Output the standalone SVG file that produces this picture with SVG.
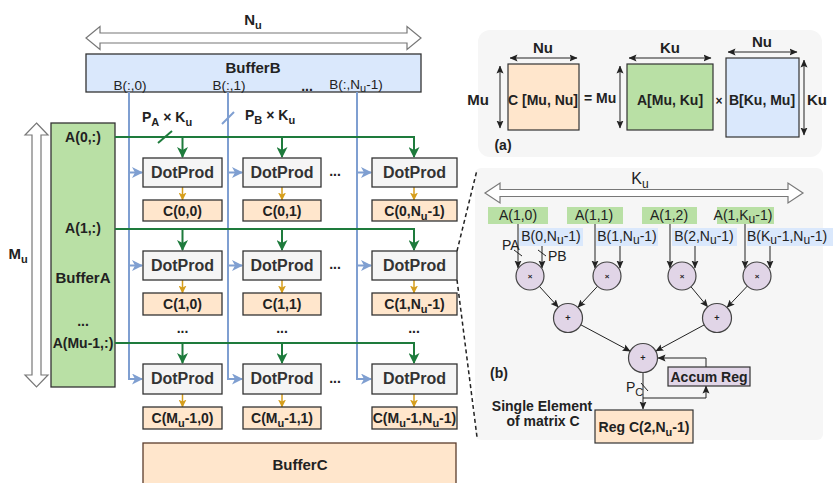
<svg xmlns="http://www.w3.org/2000/svg" width="833" height="483" viewBox="0 0 833 483">
<style>
text { font-family: "Liberation Sans", Arial, sans-serif; fill: #222; }
.b { font-weight: bold; }
.m { text-anchor: middle; }
.dp { fill: #f5f5f5; stroke: #333; stroke-width: 1.3; }
.cb { fill: #ffe6cc; stroke: #333; stroke-width: 1.3; }
.dpt { font-size: 16px; font-weight: bold; text-anchor: middle; fill: #333; }
.ct { font-size: 14px; font-weight: bold; text-anchor: middle; }
.g { stroke: #1e7b3c; stroke-width: 2; fill: none; }
.bl { stroke: #7f9fd1; stroke-width: 2; fill: none; }
.y { stroke: #d69e1c; stroke-width: 1.5; fill: none; }
.k { stroke: #222; stroke-width: 1; fill: none; }
.hollow { fill: #fff; stroke: #777; stroke-width: 1.2; }
.circ { fill: #e1d5e7; stroke: #444; stroke-width: 1.2; }
.panel { fill: #f6f6f6; stroke: none; }
.dots { font-size: 14px; font-weight: bold; text-anchor: middle; }
</style>
<defs>
<marker id="mg" markerUnits="userSpaceOnUse" markerWidth="11" markerHeight="11" refX="10" refY="5.5" orient="auto"><path d="M0,0 L11,5.5 L0,11 L3,5.5 z" fill="#1e7b3c"/></marker>
<marker id="mb" markerUnits="userSpaceOnUse" markerWidth="11" markerHeight="11" refX="10" refY="5.5" orient="auto"><path d="M0,0 L11,5.5 L0,11 L3,5.5 z" fill="#7f9fd1"/></marker>
<marker id="my" markerUnits="userSpaceOnUse" markerWidth="8" markerHeight="8" refX="7.5" refY="4" orient="auto"><path d="M0,0 L8,4 L0,8 L2,4 z" fill="#d69e1c"/></marker>
<marker id="mk" markerUnits="userSpaceOnUse" markerWidth="8" markerHeight="8" refX="7.5" refY="4" orient="auto"><path d="M0,0.5 L8,4 L0,7.5 L1.5,4 z" fill="#222"/></marker>
<marker id="mk2" markerUnits="userSpaceOnUse" markerWidth="8" markerHeight="8" refX="7.5" refY="4" orient="auto-start-reverse"><path d="M0,0.5 L8,4 L0,7.5 L1.5,4 z" fill="#222"/></marker>
</defs>

<!-- Panels backgrounds -->
<rect class="panel" x="478" y="30" width="344" height="127" rx="12"/>
<rect class="panel" x="475" y="168" width="348" height="272" rx="6"/>

<!-- Dimension arrows left -->
<g id="dim-Nu">
<polygon class="hollow" points="86,38 100,26.5 100,33 407,33 407,26.5 421,38 407,49.5 407,43 100,43 100,49.5"/>
<text class="b m" x="253" y="25" font-size="15">N<tspan dy="4" font-size="11">u</tspan></text>
</g>
<g id="dim-Mu">
<polygon class="hollow" points="36.5,123 48,135 41,135 41,375 48,375 36.5,387 25,375 32,375 32,135 25,135"/>
<text class="b m" x="18" y="259" font-size="15">M<tspan dy="4" font-size="11">u</tspan></text>
</g>

<!-- Buffers -->
<g id="bufferB">
<rect x="86" y="54" width="335" height="38" fill="#dae8fc" stroke="#333" stroke-width="1.3"/>
<text class="b m" x="253" y="73" font-size="15">BufferB</text>
<text class="m" x="130" y="89.5" font-size="13.5">B(:,0)</text>
<text class="m" x="229" y="89.5" font-size="13.5">B(:,1)</text>
<text class="dots" x="307" y="91">...</text>
<text class="m" x="356" y="89" font-size="13.5">B(:,N<tspan dy="3" font-size="11">u</tspan><tspan dy="-3">-1)</tspan></text>
</g>
<g id="bufferA">
<rect x="51" y="123" width="64" height="264" fill="#b9e0a5" stroke="#333" stroke-width="1.3"/>
<text class="b m" x="83" y="142" font-size="14">A(0,:)</text>
<text class="b m" x="83" y="233" font-size="14">A(1,:)</text>
<text class="b m" x="83" y="283" font-size="15">BufferA</text>
<text class="dots" x="83" y="326">...</text>
<text class="b m" x="83" y="348" font-size="14">A(Mu-1,:)</text>
</g>
<g id="bufferC">
<rect x="143" y="443" width="313" height="50" fill="#ffe6cc" stroke="#5a3c2c" stroke-width="1.3"/>
<text class="b m" x="300" y="470" font-size="15">BufferC</text>
</g>

<!-- Connectors left -->
<g id="connectors">
<path class="bl" d="M129,92 V379 H142" marker-end="url(#mb)"/>
<path class="bl" d="M129,172.5 H142" marker-end="url(#mb)"/>
<path class="bl" d="M129,265.5 H142" marker-end="url(#mb)"/>
<path class="bl" d="M228,92 V379 H242" marker-end="url(#mb)"/>
<path class="bl" d="M228,172.5 H242" marker-end="url(#mb)"/>
<path class="bl" d="M228,265.5 H242" marker-end="url(#mb)"/>
<path class="bl" d="M357,92 V379 H371" marker-end="url(#mb)"/>
<path class="bl" d="M357,172.5 H371" marker-end="url(#mb)"/>
<path class="bl" d="M357,265.5 H371" marker-end="url(#mb)"/>
<path class="bl" d="M222,124 L234,112" stroke-width="1.5"/>

<path class="g" d="M115,137 H414 V157" marker-end="url(#mg)"/>
<path class="g" d="M182.5,137 V157" marker-end="url(#mg)"/>
<path class="g" d="M282,137 V157" marker-end="url(#mg)"/>
<path class="g" d="M115,229 H414 V250" marker-end="url(#mg)"/>
<path class="g" d="M182.5,229 V250" marker-end="url(#mg)"/>
<path class="g" d="M282,229 V250" marker-end="url(#mg)"/>
<path class="g" d="M115,343 H414 V363" marker-end="url(#mg)"/>
<path class="g" d="M182.5,343 V363" marker-end="url(#mg)"/>
<path class="g" d="M282,343 V363" marker-end="url(#mg)"/>
<path class="g" d="M158,143 L172,131" stroke-width="1.5"/>

<path class="y" d="M182.5,187 V200" marker-end="url(#my)"/>
<path class="y" d="M282,187 V200" marker-end="url(#my)"/>
<path class="y" d="M414,187 V200" marker-end="url(#my)"/>
<path class="y" d="M182.5,280 V293" marker-end="url(#my)"/>
<path class="y" d="M282,280 V293" marker-end="url(#my)"/>
<path class="y" d="M414,280 V293" marker-end="url(#my)"/>
<path class="y" d="M182.5,394 V407" marker-end="url(#my)"/>
<path class="y" d="M282,394 V407" marker-end="url(#my)"/>
<path class="y" d="M414,394 V407" marker-end="url(#my)"/>

<path d="M457,251 L477,170" stroke="#222" stroke-width="1.5" stroke-dasharray="4,3" fill="none"/>
<path d="M457,280 L477,437" stroke="#222" stroke-width="1.5" stroke-dasharray="4,3" fill="none"/>
</g>

<text class="b" x="142" y="122" font-size="14">P<tspan dy="4" font-size="11">A</tspan><tspan dy="-4"> × K</tspan><tspan dy="4" font-size="11">u</tspan></text>
<text class="b" x="245" y="120" font-size="14">P<tspan dy="4" font-size="11">B</tspan><tspan dy="-4"> × K</tspan><tspan dy="4" font-size="11">u</tspan></text>

<!-- DotProd nodes -->
<g id="dp00"><rect class="dp" x="143" y="158" width="79" height="29"/><text class="dpt" x="182.5" y="178">DotProd</text></g>
<g id="dp01"><rect class="dp" x="243" y="158" width="78" height="29"/><text class="dpt" x="282" y="178">DotProd</text></g>
<g id="dp02"><rect class="dp" x="372" y="158" width="85" height="29"/><text class="dpt" x="414.5" y="178">DotProd</text></g>
<g id="dp10"><rect class="dp" x="143" y="251" width="79" height="29"/><text class="dpt" x="182.5" y="271">DotProd</text></g>
<g id="dp11"><rect class="dp" x="243" y="251" width="78" height="29"/><text class="dpt" x="282" y="271">DotProd</text></g>
<g id="dp12"><rect class="dp" x="372" y="251" width="85" height="29"/><text class="dpt" x="414.5" y="271">DotProd</text></g>
<g id="dp20"><rect class="dp" x="143" y="364" width="79" height="30"/><text class="dpt" x="182.5" y="384">DotProd</text></g>
<g id="dp21"><rect class="dp" x="243" y="364" width="78" height="30"/><text class="dpt" x="282" y="384">DotProd</text></g>
<g id="dp22"><rect class="dp" x="372" y="364" width="85" height="30"/><text class="dpt" x="414.5" y="384">DotProd</text></g>

<text class="dots" x="335" y="176">...</text>
<text class="dots" x="335" y="269">...</text>
<text class="dots" x="335" y="383">...</text>
<text class="dots" x="182.5" y="333">...</text>
<text class="dots" x="282" y="333">...</text>
<text class="dots" x="414" y="333">...</text>

<!-- C nodes -->
<g id="c00"><rect class="cb" x="143" y="200" width="79" height="21"/><text class="ct" x="182.5" y="216">C(0,0)</text></g>
<g id="c01"><rect class="cb" x="243" y="200" width="78" height="21"/><text class="ct" x="282" y="216">C(0,1)</text></g>
<g id="c02"><rect class="cb" x="372" y="200" width="85" height="21"/><text class="ct" x="414.5" y="216">C(0,N<tspan dy="4" font-size="11">u</tspan><tspan dy="-4">-1)</tspan></text></g>
<g id="c10"><rect class="cb" x="143" y="293" width="79" height="22"/><text class="ct" x="182.5" y="309">C(1,0)</text></g>
<g id="c11"><rect class="cb" x="243" y="293" width="78" height="22"/><text class="ct" x="282" y="309">C(1,1)</text></g>
<g id="c12"><rect class="cb" x="372" y="293" width="85" height="22"/><text class="ct" x="414.5" y="309">C(1,N<tspan dy="4" font-size="11">u</tspan><tspan dy="-4">-1)</tspan></text></g>
<g id="c20"><rect class="cb" x="143" y="407" width="79" height="22"/><text class="ct" x="182.5" y="423">C(M<tspan dy="4" font-size="11">u</tspan><tspan dy="-4">-1,0)</tspan></text></g>
<g id="c21"><rect class="cb" x="243" y="407" width="78" height="22"/><text class="ct" x="282" y="423">C(M<tspan dy="4" font-size="11">u</tspan><tspan dy="-4">-1,1)</tspan></text></g>
<g id="c22"><rect class="cb" x="372" y="407" width="85" height="22"/><text class="ct" x="414.5" y="423">C(M<tspan dy="4" font-size="11">u</tspan><tspan dy="-4">-1,N</tspan><tspan dy="4" font-size="11">u</tspan><tspan dy="-4">-1)</tspan></text></g>

<!-- Panel (a) -->
<g id="panel-a">
<rect x="508" y="64" width="71" height="66" fill="#ffe6cc" stroke="#333" stroke-width="1.2"/>
<rect x="627" y="64" width="86" height="66" fill="#b9e0a5" stroke="#333" stroke-width="1.2"/>
<rect x="726" y="58" width="73" height="79" fill="#dae8fc" stroke="#333" stroke-width="1.2"/>
<path class="k" d="M510,58 H577" marker-start="url(#mk2)" marker-end="url(#mk2)"/>
<path class="k" d="M500,66 V128" marker-start="url(#mk2)" marker-end="url(#mk2)"/>
<path class="k" d="M629,58 H711" marker-start="url(#mk2)" marker-end="url(#mk2)"/>
<path class="k" d="M620,66 V128" marker-start="url(#mk2)" marker-end="url(#mk2)"/>
<path class="k" d="M728,52 H797" marker-start="url(#mk2)" marker-end="url(#mk2)"/>
<path class="k" d="M804,60 V135" marker-start="url(#mk2)" marker-end="url(#mk2)"/>
<text class="b m" x="543" y="53" font-size="15">Nu</text>
<text class="b m" x="670" y="53" font-size="15">Ku</text>
<text class="b m" x="762" y="47" font-size="15">Nu</text>
<text class="b" x="489" y="105" font-size="15" text-anchor="end">Mu</text>
<text class="b" x="807" y="105" font-size="15">Ku</text>
<text class="b m" x="543" y="105" font-size="14">C [Mu, Nu]</text>
<text class="b" x="584" y="103" font-size="14">= Mu</text>
<text class="b m" x="670" y="105" font-size="14">A[Mu, Ku]</text>
<text class="b m" x="719" y="105" font-size="12">×</text>
<text class="b m" x="762" y="105" font-size="14">B[Ku, Mu]</text>
<text class="b m" x="503" y="150" font-size="14">(a)</text>
</g>

<!-- Panel (b) -->
<g id="panel-b">
<polygon class="hollow" points="485,193 500,183 500,189.5 788,189.5 788,183 803,193 788,203 788,196.5 500,196.5 500,203"/>
<text class="m" x="640" y="184" font-size="16">K<tspan dy="4" font-size="12">u</tspan></text>

<rect x="488" y="207" width="60" height="17" fill="#b9e0a5"/>
<rect x="567" y="207" width="56" height="17" fill="#b9e0a5"/>
<rect x="642" y="207" width="55" height="17" fill="#b9e0a5"/>
<rect x="717" y="207" width="57" height="17" fill="#b9e0a5"/>
<rect x="519" y="228" width="64" height="18" fill="#dae8fc"/>
<rect x="596" y="228" width="62" height="18" fill="#dae8fc"/>
<rect x="672" y="228" width="65" height="18" fill="#dae8fc"/>
<rect x="747" y="228" width="86" height="18" fill="#dae8fc"/>

<g class="k">
<path d="M518,224 V268" marker-end="url(#mk)"/>
<path d="M542,246 V268" marker-end="url(#mk)"/>
<path d="M595,224 V268" marker-end="url(#mk)"/>
<path d="M620,246 V268" marker-end="url(#mk)"/>
<path d="M670,224 V268" marker-end="url(#mk)"/>
<path d="M695,246 V268" marker-end="url(#mk)"/>
<path d="M745,224 V268" marker-end="url(#mk)"/>
<path d="M770,246 V268" marker-end="url(#mk)"/>
<path d="M514,250 L522,256"/>
<path d="M538,250 L546,256"/>
<path d="M539.4,286.4 L558.3,307.2" marker-end="url(#mk)"/>
<path d="M597.5,286.3 L577.9,307.4" marker-end="url(#mk)"/>
<path d="M691,286.8 L707.7,306.9" marker-end="url(#mk)"/>
<path d="M747.3,286.1 L727,307.5" marker-end="url(#mk)"/>
<path d="M580.8,324.8 L630.2,351.2" marker-end="url(#mk)"/>
<path d="M704.2,324.9 L655.8,351.1" marker-end="url(#mk)"/>
<path d="M706,367 V358 H658" marker-end="url(#mk)"/>
<path d="M643,372.5 V409" marker-end="url(#mk)"/>
<path d="M643,398 H706 V386" marker-end="url(#mk)"/>
<path d="M641,383 L648,391"/>
</g>

<text class="m" x="518" y="220" font-size="14">A(1,0)</text>
<text class="m" x="594" y="220" font-size="14">A(1,1)</text>
<text class="m" x="669" y="220" font-size="14">A(1,2)</text>
<text class="m" x="743" y="220" font-size="14">A(1,K<tspan dy="3" font-size="12">u</tspan><tspan dy="-3">-1)</tspan></text>
<text class="m" x="551" y="241" font-size="14">B(0,N<tspan dy="3" font-size="12">u</tspan><tspan dy="-3">-1)</tspan></text>
<text class="m" x="627" y="241" font-size="14">B(1,N<tspan dy="3" font-size="12">u</tspan><tspan dy="-3">-1)</tspan></text>
<text class="m" x="704" y="241" font-size="14">B(2,N<tspan dy="3" font-size="12">u</tspan><tspan dy="-3">-1)</tspan></text>
<text x="747" y="241" font-size="14">B(K<tspan dy="3" font-size="12">u</tspan><tspan dy="-3">-1,N</tspan><tspan dy="3" font-size="12">u</tspan><tspan dy="-3">-1)</tspan></text>
<text x="502" y="250" font-size="14">PA</text>
<text x="548" y="261" font-size="14">PB</text>

<g id="mul0"><circle class="circ" cx="530" cy="276" r="14"/><text class="b m" x="530" y="279" font-size="8">×</text></g>
<g id="mul1"><circle class="circ" cx="607" cy="276" r="14"/><text class="b m" x="607" y="279" font-size="8">×</text></g>
<g id="mul2"><circle class="circ" cx="682" cy="276" r="14"/><text class="b m" x="682" y="279" font-size="8">×</text></g>
<g id="mul3"><circle class="circ" cx="757" cy="276" r="14"/><text class="b m" x="757" y="279" font-size="8">×</text></g>
<g id="add0"><circle class="circ" cx="568" cy="318" r="14.5"/><text class="b m" x="568" y="321" font-size="9">+</text></g>
<g id="add1"><circle class="circ" cx="717" cy="318" r="14.5"/><text class="b m" x="717" y="321" font-size="9">+</text></g>
<g id="add2"><circle class="circ" cx="643" cy="358" r="14.5"/><text class="b m" x="643" y="361" font-size="9">+</text></g>

<g id="accum"><rect x="668" y="367" width="82" height="19" fill="#e1d5e7" stroke="#333" stroke-width="1.2"/><text class="b m" x="709" y="382" font-size="14">Accum Reg</text></g>
<g id="regC"><rect x="595" y="410" width="98" height="33" fill="#ffe6cc" stroke="#333" stroke-width="1.2"/><text class="b m" x="644" y="432" font-size="14">Reg C(2,N<tspan dy="4" font-size="11">u</tspan><tspan dy="-4">-1)</tspan></text></g>

<text x="626" y="392" font-size="14">P<tspan dy="4" font-size="11">C</tspan></text>
<text class="b m" x="499" y="378" font-size="14">(b)</text>
<text class="b m" x="542" y="411" font-size="14">Single Element</text>
<text class="b m" x="543" y="426" font-size="14">of matrix C</text>
</g>
</svg>
